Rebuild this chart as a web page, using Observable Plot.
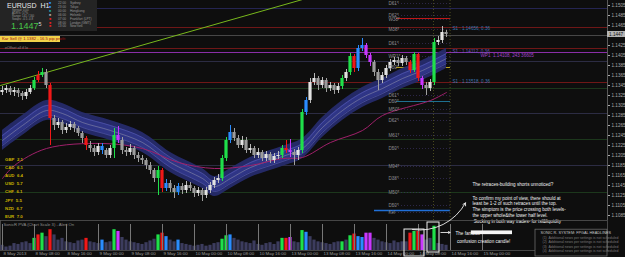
<!DOCTYPE html>
<html><head><meta charset="utf-8">
<script src="https://cdn.jsdelivr.net/npm/d3@7"></script>
<script src="https://cdn.jsdelivr.net/npm/@observablehq/plot@0.6"></script>
<style>
html,body{margin:0;padding:0;background:#0e0e0e;}
#wrap{position:relative;width:625px;height:257px;overflow:hidden;background:#0e0e0e;font-family:"Liberation Sans",Arial,sans-serif;}
.layer{position:absolute;left:0;}
#info{position:absolute;left:0;top:0;width:97px;height:31px;background:#242424;color:#bbb;}
.t{position:absolute;white-space:nowrap;line-height:1;}
</style></head>
<body><div id="wrap">
<div id="main" class="layer" style="top:0"></div>
<div id="vol" class="layer" style="top:220px"></div>
<div id="info"></div>
<div id="overlay"></div>
</div>
<script>
// ---------- data ----------
const opens=[
1.1331,1.1335,1.1339,1.1331,1.1335,1.1329,1.1323,1.1331,1.1339,1.1355,
1.1365,1.1371,1.1345,1.1279,1.1265,1.1271,1.1255,1.1261,1.1267,1.1259,
1.1249,1.1239,1.1225,1.1219,1.1211,1.1223,1.1215,1.1205,1.1219,1.1245,
1.1235,1.1215,1.1211,1.1219,1.1205,1.1199,1.1195,1.1185,1.1175,1.1159,
1.1175,1.1139,1.1149,1.1139,1.1131,1.1143,1.1135,1.1145,1.1139,1.1129,
1.1135,1.1125,1.1135,1.1145,1.1155,1.1159,1.1199,1.1235,1.1251,1.1239,
1.1225,1.1235,1.1215,1.1219,1.1205,1.1211,1.1199,1.1207,1.1195,1.1203,
1.1205,1.1219,1.1215,1.1211,1.1205,1.1215,1.1291,1.1315,1.1351,1.1359,
1.1345,1.1355,1.1339,1.1345,1.1335,1.1343,1.1359,1.1371,1.1403,1.1379,
1.1419,1.1425,1.1405,1.1391,1.1371,1.1355,1.1365,1.1379,1.1391,1.1395,
1.1389,1.1399,1.1391,1.1375,1.1407,1.1359,1.1345,1.1339,1.1351,1.1431,
1.1435,1.1451];
const closes=[
1.1335,1.1339,1.1331,1.1335,1.1329,1.1323,1.1331,1.1339,1.1355,1.1365,
1.1371,1.1345,1.1279,1.1265,1.1271,1.1255,1.1261,1.1267,1.1259,1.1249,
1.1239,1.1225,1.1219,1.1211,1.1223,1.1215,1.1205,1.1219,1.1245,1.1235,
1.1215,1.1211,1.1219,1.1205,1.1199,1.1195,1.1185,1.1175,1.1159,1.1175,
1.1139,1.1149,1.1139,1.1131,1.1143,1.1135,1.1145,1.1139,1.1129,1.1135,
1.1125,1.1135,1.1145,1.1155,1.1159,1.1199,1.1235,1.1251,1.1239,1.1225,
1.1235,1.1215,1.1219,1.1205,1.1211,1.1199,1.1207,1.1195,1.1203,1.1205,
1.1219,1.1215,1.1211,1.1205,1.1215,1.1291,1.1315,1.1351,1.1359,1.1345,
1.1355,1.1339,1.1345,1.1335,1.1343,1.1359,1.1371,1.1403,1.1379,1.1419,
1.1425,1.1405,1.1391,1.1371,1.1355,1.1365,1.1379,1.1391,1.1395,1.1389,
1.1399,1.1391,1.1375,1.1407,1.1359,1.1345,1.1339,1.1351,1.1431,1.1435,
1.1451,1.1447];
const highs=[
1.1343,1.1345,1.1343,1.1341,1.1339,1.1333,1.1337,1.1345,1.1361,1.1373,
1.1379,1.1377,1.1349,1.1285,1.1279,1.1275,1.1269,1.1273,1.1271,1.1263,
1.1253,1.1243,1.1233,1.1225,1.1229,1.1229,1.1219,1.1225,1.1259,1.1263,
1.1241,1.1221,1.1227,1.1223,1.1211,1.1205,1.1199,1.1191,1.1179,1.1183,
1.1179,1.1157,1.1155,1.1145,1.1149,1.1149,1.1153,1.1151,1.1143,1.1141,
1.1139,1.1141,1.1151,1.1161,1.1167,1.1205,1.1241,1.1265,1.1259,1.1245,
1.1243,1.1241,1.1227,1.1223,1.1219,1.1215,1.1213,1.1211,1.1209,1.1213,
1.1225,1.1235,1.1237,1.1217,1.1221,1.1297,1.1321,1.1359,1.1369,1.1363,
1.1361,1.1359,1.1351,1.1349,1.1349,1.1365,1.1377,1.1409,1.1407,1.1425,
1.1439,1.1429,1.1409,1.1395,1.1377,1.1371,1.1385,1.1397,1.1401,1.1401,
1.1405,1.1403,1.1395,1.1411,1.1409,1.1363,1.1351,1.1357,1.1439,1.1443,
1.1463,1.1455];
const lows=[
1.1325,1.1329,1.1325,1.1323,1.1321,1.1315,1.1317,1.1327,1.1335,1.1351,
1.1361,1.1339,1.1225,1.1255,1.1259,1.1247,1.1249,1.1255,1.1251,1.1243,
1.1229,1.1215,1.1211,1.1203,1.1205,1.1207,1.1199,1.1199,1.1199,1.1229,
1.1207,1.1203,1.1205,1.1197,1.1191,1.1187,1.1177,1.1167,1.1151,1.1125,
1.1131,1.1133,1.1131,1.1119,1.1125,1.1127,1.1129,1.1133,1.1121,1.1123,
1.1113,1.1119,1.1129,1.1139,1.1149,1.1153,1.1193,1.1229,1.1233,1.1219,
1.1219,1.1209,1.1209,1.1199,1.1199,1.1193,1.1193,1.1189,1.1189,1.1197,
1.1199,1.1209,1.1201,1.1185,1.1195,1.1209,1.1285,1.1309,1.1345,1.1335,
1.1339,1.1331,1.1333,1.1327,1.1329,1.1337,1.1353,1.1365,1.1371,1.1373,
1.1413,1.1399,1.1383,1.1363,1.1335,1.1349,1.1359,1.1373,1.1385,1.1383,
1.1383,1.1385,1.1369,1.1371,1.1353,1.1337,1.1325,1.1333,1.1345,1.1425,
1.1429,1.1441];
const volumes=[
6,4,5,8,7,9,10,8,14,18,
20,16,24,18,12,14,10,9,8,11,
12,14,10,9,8,12,9,10,24,22,
15,12,10,9,8,7,9,11,13,18,
20,16,12,10,12,8,7,6,5,6,
7,5,6,8,9,13,17,18,14,12,
10,9,8,11,7,6,8,9,7,10,
14,14,15,10,9,23,21,16,12,10,
9,8,7,9,10,10,12,17,19,16,
15,20,20,14,12,10,9,8,11,9,
10,10,20,22,22,18,12,14,28,8,
7,6];
// PVA colour class per candle: g climax bull, r climax bear, b rising bull, m rising bear
const pvaClass={8:"g",9:"r",10:"g",12:"r",21:"r",25:"b",28:"g",29:"m",39:"g",40:"r",41:"b",44:"b",
 55:"g",56:"g",57:"b",70:"g",71:"r",72:"m",75:"g",76:"b",85:"g",87:"g",88:"r",89:"b",90:"b",91:"m",92:"m",
 102:"r",103:"g",104:"r",105:"m",108:"g"};
const bandIdx=[0,5,11,15,20,27,35,42,50,53,57,62,70,75,80,85,90,95,100,105,111];
const bandMid=[1.1235,1.1265,1.1295,1.1289,1.1271,1.1255,1.1231,1.1191,1.1159,1.1143,1.1159,1.1181,1.1203,1.1219,1.1261,1.1295,1.1321,1.1339,1.1359,1.1375,1.1399];
const bandUp=[1.1255,1.1285,1.1315,1.1309,1.1291,1.1275,1.1251,1.1211,1.1179,1.1163,1.1179,1.1201,1.1223,1.1239,1.1281,1.1315,1.1341,1.1359,1.1379,1.1395,1.1419];
const bandLo=[1.1215,1.1245,1.1275,1.1269,1.1251,1.1235,1.1211,1.1171,1.1139,1.1123,1.1139,1.1161,1.1183,1.1199,1.1241,1.1275,1.1301,1.1319,1.1339,1.1355,1.1379];
const maIdx=[0,3,11,25,35,44,53,62,70,75,82,90,95,107,111];
const maVal=[1.1159,1.1185,1.1219,1.1229,1.1219,1.1191,1.1179,1.1185,1.1199,1.1201,1.1231,1.1255,1.1285,1.1315,1.1331];
const trendIdx=[-0.5,75];
const trendVal=[1.1345,1.1517];
const levelPrices=[1.1499,1.1461,1.1445,1.1419,1.1411,1.1393,1.1351,1.1339,1.1289,1.1237,1.1185,1.1131];
const levelKinds=["navy","reddash","gray","reddash","purple","slate","reddash","green","slate","green","slate","green"];
const shortLevelPrices=[1.1479,1.1381,1.1313,1.1095];
const shortLevelKinds=["red","yellow","teal","blue"];
const pivotNames=["D61*","D62*","W38*","M38*","D61*","WP1*","D50*","D61*","D50*","M50*","D62*","M61*","D50*","M94*","D38*","M50*","D50*","Kel"];
const pivotPrices=[1.1509,1.1485,1.1477,1.1457,1.1429,1.1403,1.1381,1.1325,1.1313,1.1297,1.1275,1.1245,1.1219,1.1183,1.1159,1.1131,1.1105,1.1091];
const yTicks=[1.1505,1.1485,1.1465,1.1425,1.1405,1.1385,1.1365,1.1345,1.1325,1.1305,1.1285,1.1265,1.1245,1.1225,1.1205,1.1185,1.1165,1.1145,1.1125,1.1105,1.1085];
const currentPrice=1.1447;
const xTickIdx=[0,8,16,24,32,40,48,56,64,72,80,88,96,104,112,120];
const xTickLabels=["8 May 2013","8 May 08:00","8 May 16:00","9 May 00:00","9 May 08:00","9 May 16:00","10 May 00:00","10 May 08:00","10 May 16:00","13 May 00:00","13 May 08:00","13 May 16:00","14 May 00:00","14 May 08:00","14 May 16:00","15 May 00:00"];
const currencyNames=["GBP","CAD","AUD","USD","CHF","JPY","NZD","EUR"];
const currencyScores=["2.1","6.1","6.4","5.7","6.1","5.5","6.7","7.0"];
const sessionTimes=["22:00","23:00","00:00","06:00","07:00","08:00","13:00"];
const sessionNames=["Sydney","Tokyo","Hongkong","Helsinki","Frankfurt (LPT)","London (GMT)","NewYork"];

// ---------- build ----------
const candles=closes.map((c,i)=>({i,open:opens[i],close:c,high:highs[i],low:lows[i],cls:pvaClass[i]||(c>=opens[i]?"up":"dn"),vol:volumes[i]}));
const band=bandIdx.map((x,k)=>({i:x,mid:bandMid[k],up:bandUp[k],lo:bandLo[k]}));
const ma=maIdx.map((x,k)=>({i:x,p:maVal[k]}));
const trend=trendIdx.map((x,k)=>({i:x,p:trendVal[k]}));
const levels=levelPrices.map((p,k)=>({p,kind:levelKinds[k]}));
const shortLevels=shortLevelPrices.map((p,k)=>({p,kind:shortLevelKinds[k]}));
const pivots=pivotNames.map((n,k)=>({n,p:pivotPrices[k]}));
const bodyCol={g:"#1fe04a",r:"#f01818",b:"#2a8cff",m:"#c838ff",up:"#e2e2e2",dn:"#9c9c9c"};
const wickCol={g:"#1fe04a",r:"#f01818",b:"#2a8cff",m:"#c838ff",up:"#b8b8b8",dn:"#a0a0a0"};
const volCol={g:"#1fe04a",r:"#f01818",b:"#2a8cff",m:"#c838ff",up:"#3c3c5e",dn:"#3c3c5e"};
const lvlStroke={navy:"#28285a",reddash:"#7a1818",gray:"#4e4e4e",purple:"#8a2ea8",slate:"#30304a",green:"#1e3c1e"};
const lvlDash={reddash:"6,2,1,2"};
const shortStroke={red:"#c01818",yellow:"#b8a020",teal:"#1e7090",blue:"#2070d8"};

const xDomain=[-0.5,151.25];
const H1=220, H2=37;
const yDomain=[1.1515-0.0002*H1,1.1515];
const ff="Liberation Sans, Arial, sans-serif";

const main=Plot.plot({
  width:625,height:H1,marginLeft:0,marginRight:18,marginTop:0,marginBottom:0,
  x:{domain:xDomain,axis:null},
  y:{domain:yDomain,axis:null},
  style:{background:"transparent",overflow:"visible",fontFamily:ff},
  marks:[
    Plot.ruleY(levels,{y:"p",stroke:d=>lvlStroke[d.kind],strokeDasharray:d=>lvlDash[d.kind]||null,strokeWidth:d=>d.kind==="purple"?1.2:0.9}),
    Plot.ruleY(pivots,{y:"p",x1:97.5,x2:112,stroke:"#3a3060",strokeDasharray:"1,2",strokeWidth:0.7}),
    Plot.ruleY(shortLevels,{y:"p",x1:d=>d.kind==="blue"?93:98.5,x2:112,stroke:d=>shortStroke[d.kind],strokeWidth:d=>d.kind==="blue"?1.5:1.2}),
    Plot.ruleX([107.75,111.9],{stroke:"#5a5a22",strokeDasharray:"1,2",strokeWidth:0.8}),
    Plot.areaY(band,{x:"i",y1:"lo",y2:"up",fill:"#262b6c",fillOpacity:0.95,curve:"catmull-rom"}),
    Plot.areaY(band,{x:"i",y1:d=>(d.lo+d.mid)/2,y2:d=>(d.up+d.mid)/2,fill:"#2f3586",curve:"catmull-rom"}),
    Plot.line(band,{x:"i",y:d=>(d.up+d.mid)/2,stroke:"#5a60b8",strokeWidth:0.6,curve:"catmull-rom"}),
    Plot.line(band,{x:"i",y:d=>(d.lo+d.mid)/2,stroke:"#5a60b8",strokeWidth:0.6,curve:"catmull-rom"}),
    Plot.line(band,{x:"i",y:"mid",stroke:"#9a9ab0",strokeWidth:0.5,curve:"catmull-rom"}),
    Plot.line(ma,{x:"i",y:"p",stroke:"#a0206a",strokeWidth:1,curve:"catmull-rom"}),
    Plot.line(trend,{x:"i",y:"p",stroke:"#78b81c",strokeWidth:1}),
    Plot.ruleX(candles,{x:"i",y1:"low",y2:"high",stroke:d=>wickCol[d.cls],strokeWidth:1}),
    Plot.rect(candles,{x1:d=>d.i-0.4,x2:d=>d.i+0.4,y1:"open",y2:"close",fill:d=>bodyCol[d.cls]}),
    Plot.text(pivots,{x:96.5,y:"p",text:"n",fill:"#8c8c8c",fontSize:4.6,textAnchor:"start"}),
    Plot.text(["S1 : 1.14656, 0.36"],{x:112.5,y:1.1458,text:d=>d,fill:"#3c78b4",fontSize:4.6,textAnchor:"start"}),
    Plot.text(["S1 : 1.14112, 0.36"],{x:112.5,y:1.1413,text:d=>d,fill:"#6a5ab8",fontSize:4.6,textAnchor:"start"}),
    Plot.text(["WP1  1.14108, 243 36605"],{x:119.5,y:1.1405,text:d=>d,fill:"#a046c8",fontSize:4.6,textAnchor:"start"}),
    Plot.text(["S1 : 1.13518, 0.36"],{x:112.5,y:1.1352,text:d=>d,fill:"#3c78b4",fontSize:4.6,textAnchor:"start"}),
    Plot.text(["The retraces-building shorts unnoticed?"],{x:117.5,y:1.1146,text:d=>d,fill:"#f2f2f2",fontSize:4.6,textAnchor:"start"}),
    Plot.text(["To confirm my point of view, there should at\nleast be 1-2 of such retraces until the top.\nThe simptom is the price crossing both levels-\nthe upper whole&the lower half level.\n Sucking in both way trades- for tsl&liquidity"],
      {x:117.5,y:1.1125,text:d=>d,fill:"#f2f2f2",fontSize:4.6,textAnchor:"start",lineAnchor:"top",lineHeight:1.27}),
    Plot.ruleX([xDomain[1]],{stroke:"#5a5a5a"}),
    Plot.axisY({anchor:"right",ticks:yTicks,tickFormat:".4f",tickSize:2,tickPadding:2,fontSize:4.6,color:"#a8a8a8"}),
    Plot.rect([currentPrice],{x1:xDomain[1],x2:xDomain[1]+4.5,y1:d=>d-0.0006,y2:d=>d+0.0006,fill:"#b4b4b4"}),
    Plot.text([currentPrice],{x:xDomain[1]+0.4,y:d=>d,text:d=>d.toFixed(4),fill:"#111",fontSize:4.6,textAnchor:"start"})
  ]
});
document.getElementById("main").appendChild(main);

const vol=Plot.plot({
  width:625,height:H2,marginLeft:0,marginRight:18,marginTop:4,marginBottom:7,
  x:{domain:xDomain,axis:null},
  y:{domain:[0,30],axis:null},
  style:{background:"transparent",overflow:"visible",fontFamily:ff},
  marks:[
    Plot.frame({stroke:"#555",strokeWidth:0.8,insetTop:-4}),
    Plot.rectY(candles,{x1:d=>d.i-0.4,x2:d=>d.i+0.4,y:"vol",fill:d=>volCol[d.cls]}),
    Plot.text(["SonicR PVA (Chart Scale 3) - Alert On"],{frameAnchor:"top-left",dx:3,dy:-1,text:d=>d,fill:"#8c8c8c",fontSize:4.2}),
    Plot.tickX(xTickIdx,{x:d=>d,y1:0,y2:-2,stroke:"#777"}),
    Plot.text(xTickIdx,{x:d=>d,frameAnchor:"bottom",dy:4.5,text:(d,k)=>xTickLabels[k],fill:"#9a9a9a",fontSize:4.4,textAnchor:"start",dx:1}),
    // annotation boxes and arrows
    Plot.rect([0],{x1:100.5,x2:105.5,y1:-6.9,y2:24.2,stroke:"#eee",strokeWidth:1,fill:"none"}),
    Plot.rect([0],{x1:106.25,x2:109.25,y1:-2.3,y2:32.3,stroke:"#eee",strokeWidth:1,fill:"none"}),
    Plot.arrow([0],{x1:102.5,y1:24.2,x2:115.75,y2:55,bend:-35,stroke:"#eee",strokeWidth:0.9,headLength:5}),
    Plot.arrow([0],{x1:109.6,y1:20.8,x2:111.9,y2:20.8,stroke:"#eee",strokeWidth:0.9,headLength:3}),
    Plot.text(["The famous"],{x:113.25,y:19.6,text:d=>d,fill:"#f2f2f2",fontSize:4.6,textAnchor:"start"}),
    Plot.rect([0],{x1:117.2,x2:127.5,y1:18.3,y2:22.6,fill:"#f4f4f4"}),
    Plot.text(["confusion creation candle!"],{x:113.6,y:10.6,text:d=>d,fill:"#f2f2f2",fontSize:4.6,textAnchor:"start"}),
    Plot.rect([0],{x1:133.25,x2:151.25,y1:-6.9,y2:24,stroke:"#6a6a6a",strokeWidth:0.8,fill:"#0e0e0e"}),
    Plot.text(["SONIC R. SYSTEM: FPGAL HEADLINES"],{x:134.5,y:20.5,text:d=>d,fill:"#c8c8c8",fontSize:3.8,textAnchor:"start"}),
    Plot.text(["(1)  Additional news per settings is not scheduled\n(2)  Additional news per settings is not scheduled\n(3)  Additional news per settings is not scheduled\n(4)  Additional news per settings is not scheduled"],
      {x:135,y:16.5,text:d=>d,fill:"#7a7a7a",fontSize:3.5,textAnchor:"start",lineAnchor:"top",lineHeight:1.2})
  ]
});
document.getElementById("vol").appendChild(vol);

// ---------- html text blocks ----------
const info=document.getElementById("info");
let h='<div class="t" style="left:7px;top:2px;font-size:7px;color:#e8e8e8;">EURUSD&nbsp;&nbsp;H1</div>';
["Spread: 0.00","ADR%: 57%","Range: 141 / 160","Swaps: -0.5 -0.8"].forEach((s,k)=>{h+=`<div class="t" style="left:12px;top:${9+k*3.1}px;font-size:2.9px;color:#9a9a9a;">${s}</div>`;});
h+='<div class="t" style="left:11px;top:21.5px;font-size:9px;color:#48c848;">1.1447<span style="font-size:5.5px;color:#d8d8d8;vertical-align:top;">5</span></div>';
const glyphCols=["#2a8cff","#2a8cff","#20a0a0","#aaa","#e02020","#e02020","#e02020"];
sessionTimes.forEach((t,k)=>{
  h+=`<div class="t" style="left:49px;top:${2+k*3.9}px;font-size:3.6px;color:${glyphCols[k]};">■</div>`;
  h+=`<div class="t" style="left:58px;top:${2+k*3.9}px;font-size:3.2px;color:#9a9a9a;">${t}</div>`;
  h+=`<div class="t" style="left:70px;top:${2+k*3.9}px;font-size:3.2px;color:#9a9a9a;">${sessionNames[k]}</div>`;
});
info.innerHTML=h;
const ov=document.getElementById("overlay");
let o='<div class="t" style="left:0;top:35.5px;width:60px;height:6px;background:#f2d24a;"></div>';
o+='<div class="t" style="left:2px;top:36.5px;font-size:4.2px;color:#a01010;">Kar Sell @ 1.1382 - 16.5 pip profit</div>';
o+='<div class="t" style="left:5px;top:47px;font-size:3.6px;color:#8a8a8a;">eOffset all tf lo</div>';
currencyNames.forEach((c,k)=>{o+=`<div class="t" style="left:5px;top:${157.5+k*8.2}px;font-size:4.4px;font-weight:bold;color:#c8b000;">${c}&nbsp;&nbsp;${currencyScores[k]}</div>`;});
ov.innerHTML=o;
</script>
</body></html>
